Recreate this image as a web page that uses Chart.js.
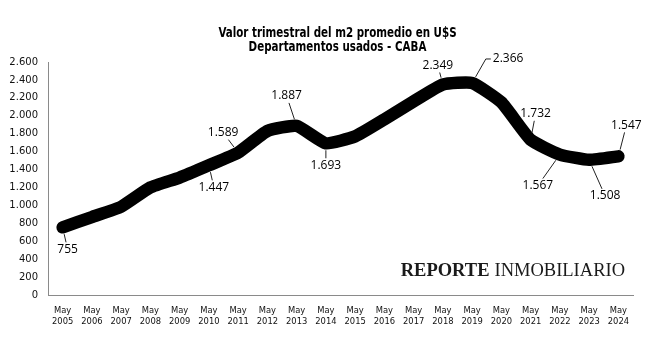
<!DOCTYPE html>
<html>
<head>
<meta charset="utf-8">
<script src="https://cdn.jsdelivr.net/npm/chart.js@4"></script>
<style>
  html, body { margin: 0; padding: 0; background: #fff; }
  #wrap { width: 661px; height: 342px; position: relative; }
</style>
</head>
<body>
<div id="wrap"><canvas id="c" width="661" height="342"></canvas></div>
<script>
// ---- data ----
const categories = ["May 2005","May 2006","May 2007","May 2008","May 2009","May 2010","May 2011","May 2012","May 2013","May 2014","May 2015","May 2016","May 2017","May 2018","May 2019","May 2020","May 2021","May 2022","May 2023","May 2024"];
const values = [755, 870, 985, 1200, 1310, 1447, 1589, 1830, 1887, 1693, 1770, 1960, 2160, 2349, 2366, 2150, 1732, 1567, 1508, 1547];
const labeledIndexes = [0, 5, 6, 8, 9, 13, 14, 16, 17, 18, 19];
const yTicks = [0, 200, 400, 600, 800, 1000, 1200, 1400, 1600, 1800, 2000, 2200, 2400, 2600];
const titleLines = ["Valor trimestral del m2 promedio en U$S", "Departamentos usados - CABA"];
const watermarkBold = "REPORTE";
const watermarkRegular = "INMOBILIARIO";

function fmt(v) { return String(Math.round(v)).replace(/\B(?=(\d{3})+(?!\d))/g, "."); }

// label placement (presentation only): offset of label centre from its point
const labelPlacement = {
  0: {dx: 5, dy: 22}, 5: {dx: 5, dy: 22}, 6: {dx: -15, dy: -20}, 8: {dx: -10, dy: -30},
  9: {dx: 0, dy: 22}, 13: {dx: -5, dy: -19}, 14: {dx: 36, dy: -24, elbow: true},
  16: {dx: 5, dy: -26}, 17: {dx: -22, dy: 31}, 18: {dx: 16, dy: 36}, 19: {dx: 8, dy: -31}
};

const decorations = {
  id: 'decorations',
  afterDatasetsDraw(chart) {
    const ctx = chart.ctx;
    const meta = chart.getDatasetMeta(0);
    const data = chart.data.datasets[0].data;
    ctx.save();
    ctx.font = '12px "Open Sans", "Noto Sans", sans-serif';
    ctx.textAlign = 'center';
    ctx.textBaseline = 'middle';
    ctx.strokeStyle = '#222';
    ctx.lineWidth = 1;
    ctx.fillStyle = '#000';
    labeledIndexes.forEach(i => {
      const p = meta.data[i];
      const pl = labelPlacement[i] || {dx: 0, dy: -20};
      const text = fmt(data[i]);
      const cx = p.x + pl.dx, cy = p.y + pl.dy;
      const hw = ctx.measureText(text).width / 2 + 2, hh = 7;
      ctx.beginPath();
      if (pl.elbow) {
        const ex = cx - hw - 5, ey = cy;
        const vx = ex - p.x, vy = ey - p.y, L = Math.hypot(vx, vy);
        ctx.moveTo(p.x + vx / L * 7, p.y + vy / L * 7);
        ctx.lineTo(ex, ey);
        ctx.lineTo(cx - hw, ey);
      } else {
        const vx = cx - p.x, vy = cy - p.y, L = Math.hypot(vx, vy);
        const ux = vx / L, uy = vy / L;
        const t = Math.min(Math.abs(ux) > 1e-6 ? hw / Math.abs(ux) : 1e9, Math.abs(uy) > 1e-6 ? hh / Math.abs(uy) : 1e9);
        const sx = p.x + ux * 7, sy = p.y + uy * 7;
        const ex = cx - ux * t, ey = cy - uy * t;
        if (Math.hypot(ex - sx, ey - sy) > 2 && (L - t) > 7) {
          ctx.moveTo(sx, sy);
          ctx.lineTo(ex, ey);
        }
      }
      ctx.stroke();
      ctx.fillText(text, cx, cy);
    });
    ctx.restore();
  },
  afterDraw(chart) {
    const ctx = chart.ctx;
    const a = chart.chartArea;
    // title (two lines, bold, condensed)
    ctx.save();
    ctx.fillStyle = '#000';
    ctx.textAlign = 'center';
    ctx.textBaseline = 'alphabetic';
    ctx.font = 'bold 13.5px "DejaVu Sans Condensed", "DejaVu Sans", sans-serif';
    const tx = (a.left + a.right) / 2 - 3;
    titleLines.forEach((line, k) => {
      ctx.save();
      ctx.translate(tx, 37 + k * 14.2);
      ctx.scale(0.85, 1);
      ctx.fillText(line, 0, 0);
      ctx.restore();
    });
    ctx.restore();
    // watermark
    ctx.save();
    ctx.textBaseline = 'middle';
    ctx.textAlign = 'right';
    ctx.fillStyle = '#1a1a1a';
    const right = a.right - 8, y = a.bottom - 24;
    ctx.font = '18.5px "Liberation Serif", "DejaVu Serif", serif';
    ctx.fillText(watermarkRegular, right, y);
    const w = ctx.measureText(watermarkRegular).width;
    ctx.font = 'bold 18.5px "Liberation Serif", "DejaVu Serif", serif';
    ctx.fillText(watermarkBold, right - w - 5, y);
    ctx.restore();
  }
};

new Chart(document.getElementById('c'), {
  type: 'line',
  data: {
    labels: categories.map(c => c.split(' ')),
    datasets: [{
      data: values,
      borderColor: '#000',
      backgroundColor: '#000',
      borderWidth: 12.5,
      borderCapStyle: 'round',
      borderJoinStyle: 'round',
      pointRadius: 0,
      tension: 0.15,
      fill: false
    }]
  },
  options: {
    responsive: false,
    animation: false,
    layout: { padding: { left: 0, right: 28, top: 62, bottom: 0 } },
    plugins: {
      legend: { display: false },
      tooltip: { enabled: false },
      title: { display: false }
    },
    scales: {
      x: {
        type: 'category',
        offset: true,
        grid: { display: false, drawTicks: false },
        border: { display: true, color: '#8a8a8a', width: 1 },
        ticks: {
          color: '#111',
          padding: 10,
          autoSkip: false,
          maxRotation: 0,
          font: { family: '"DejaVu Sans Condensed", "DejaVu Sans", sans-serif', size: 9.3, lineHeight: 1.22 }
        },
        afterFit(s) { s.height = 47; }
      },
      y: {
        min: 0,
        max: 2600,
        afterBuildTicks(s) { s.ticks = yTicks.map(v => ({ value: v })); },
        grid: { display: false, drawTicks: false },
        border: { display: true, color: '#8a8a8a', width: 1 },
        ticks: {
          color: '#111',
          padding: 10,
          font: { family: '"DejaVu Sans", sans-serif', size: 10 },
          callback: v => fmt(v)
        },
        afterFit(s) { s.width = 48; }
      }
    }
  },
  plugins: [decorations]
});
</script>
</body>
</html>
